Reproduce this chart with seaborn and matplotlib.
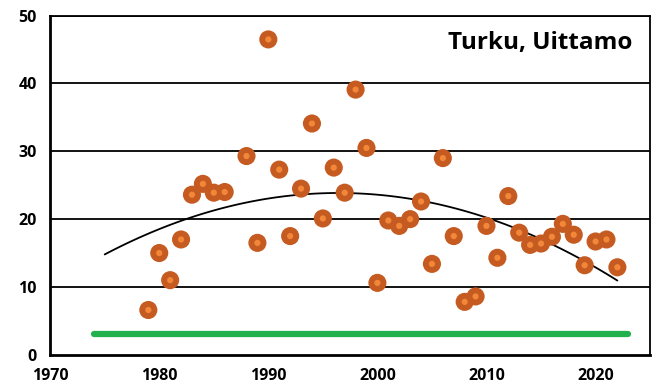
import numpy as np
import matplotlib
matplotlib.use("Agg")
import matplotlib.pyplot as plt
import seaborn as sns
import pandas as pd
from matplotlib.ticker import MultipleLocator

years = [1979, 1980, 1981, 1982, 1983, 1984, 1985, 1986, 1988, 1989, 1990, 1991,
         1992, 1993, 1994, 1995, 1996, 1997, 1998, 1999, 2000, 2001, 2002, 2003,
         2004, 2005, 2006, 2007, 2008, 2009, 2010, 2011, 2012, 2013, 2014, 2015,
         2016, 2017, 2018, 2019, 2020, 2021, 2022]
values = [6.6, 15.0, 11.0, 17.0, 23.6, 25.2, 23.9, 24.0, 29.3, 16.5, 46.5, 27.3,
          17.5, 24.5, 34.1, 20.1, 27.6, 23.9, 39.1, 30.5, 10.6, 19.8, 19.0, 20.0,
          22.6, 13.4, 29.0, 17.5, 7.8, 8.6, 19.0, 14.3, 23.4, 18.0, 16.2, 16.4,
          17.4, 19.3, 17.7, 13.2, 16.7, 17.0, 12.9]
limit_years = [1974, 2023]
limit_values = [3, 3]
trend_start, trend_end = 1975, 2022

df = pd.DataFrame({"year": years, "value": values})

sns.set_style("white")
plt.rcParams["font.family"] = ["Open Sans", "DejaVu Sans"]
plt.rcParams["font.weight"] = "bold"
plt.rcParams["text.color"] = "black"
plt.rcParams["xtick.color"] = "black"
plt.rcParams["ytick.color"] = "black"

fig, ax = plt.subplots(figsize=(6.6, 3.92), dpi=100)
fig.subplots_adjust(left=0.076, right=0.985, top=0.96, bottom=0.095)

for yv in [10, 20, 30, 40, 50]:
    ax.axhline(yv, color="black", lw=1.3, zorder=1)

# reference level
sns.lineplot(x=limit_years, y=limit_values, color="#22B14C", lw=4.5,
             solid_capstyle="round", ax=ax, zorder=2)

# quadratic trend of the data
coef = np.polyfit(years, values, 2)
tx = np.linspace(trend_start, trend_end, 100)
sns.lineplot(x=tx, y=np.polyval(coef, tx), color="black", lw=1.3, ax=ax, zorder=3)

sns.scatterplot(data=df, x="year", y="value", s=170, color="#C65B22",
                edgecolor="none", ax=ax, zorder=4)
sns.scatterplot(data=df, x="year", y="value", s=20, color="#F2873A",
                edgecolor="none", ax=ax, zorder=5)

ax.set_xlim(1970, 2025)
ax.set_ylim(0, 50)
ax.xaxis.set_major_locator(MultipleLocator(10))
ax.xaxis.set_minor_locator(MultipleLocator(2))
ax.yaxis.set_major_locator(MultipleLocator(10))
ax.tick_params(axis="both", which="both", direction="out", color="black",
               labelcolor="black", labelsize=11.5, width=1.3)
ax.tick_params(axis="both", which="major", length=6)
ax.tick_params(axis="x", which="minor", length=5)
for lab in ax.get_xticklabels() + ax.get_yticklabels():
    lab.set_fontweight("bold")
ax.set_xlabel("")
ax.set_ylabel("")

for side in ["left", "bottom"]:
    ax.spines[side].set_color("black")
    ax.spines[side].set_linewidth(2)
for side in ["top", "right"]:
    ax.spines[side].set_color("black")
    ax.spines[side].set_linewidth(1.3)

ax.text(0.97, 0.92, "Turku, Uittamo", transform=ax.transAxes, ha="right",
        va="center", fontsize=17.5, fontweight="bold", color="black")

plt.savefig("out.png", dpi=100)
